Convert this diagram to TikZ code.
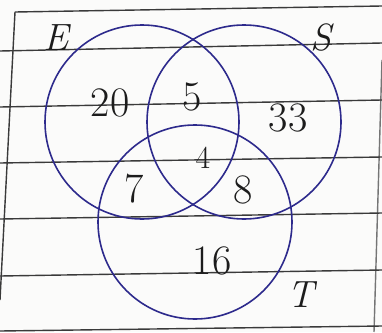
\documentclass[tikz,border=0pt]{standalone}
\usepackage{fontspec}
\usepackage{tikz}
\usetikzlibrary{positioning}
\definecolor{paper}{HTML}{FBFBFA}
\definecolor{rule}{HTML}{3A3A3A}
\definecolor{pen}{HTML}{2D2A8C}
\definecolor{pencil}{HTML}{1C1C1C}
\tikzset{ruleline/.style={draw=rule,line width=1.4pt}, setcircle/.style={circle,draw=pen,line width=1.6pt,minimum size=194pt,inner sep=0pt}, regionnum/.style={font=\fontsize{42}{46}\selectfont,text=pencil,inner sep=0pt}, setname/.style={font=\fontsize{38}{42}\selectfont\itshape,text=pencil,inner sep=0pt}}

\begin{document}
\begin{tikzpicture}[x=1pt,y=-1pt]
\useasboundingbox[fill=paper] (0,0) rectangle (382,332);
% ruled paper
\draw[ruleline] (15,12)--(382,6);
\draw[ruleline] (15,12)--(0,300);
\draw[ruleline,rule!70] (382,60)--(374,332);
\foreach \yl/\yr in {51/43,107/100,163/157,219/213,276/270,331/326}
  \draw[ruleline] (0,\yl)--(382,\yr);
% the three sets
\node[setcircle] (E) at (142,122) {};
\node[setcircle] (S) at (244,122) {};
\node[setcircle] (T) at (195,222) {};
\node[setname] (nE) at (56,38) {E};
\node[setname] (nS) at (321,38) {S};
\node[setname] (nT) at (301,295) {T};
% counts
\node[regionnum] (r20) at (110,103) {20};
\node[regionnum] (r5) at (192,97) {5};
\node[regionnum] (r33) at (288,118) {33};
\node[regionnum,font=\fontsize{32}{36}\selectfont] (r4) at (203,158) {4};
\node[regionnum] (r7) at (134,189) {7};
\node[regionnum] (r8) at (243,190) {8};
\node[regionnum] (r16) at (212,261) {16};
\end{tikzpicture}
\end{document}
